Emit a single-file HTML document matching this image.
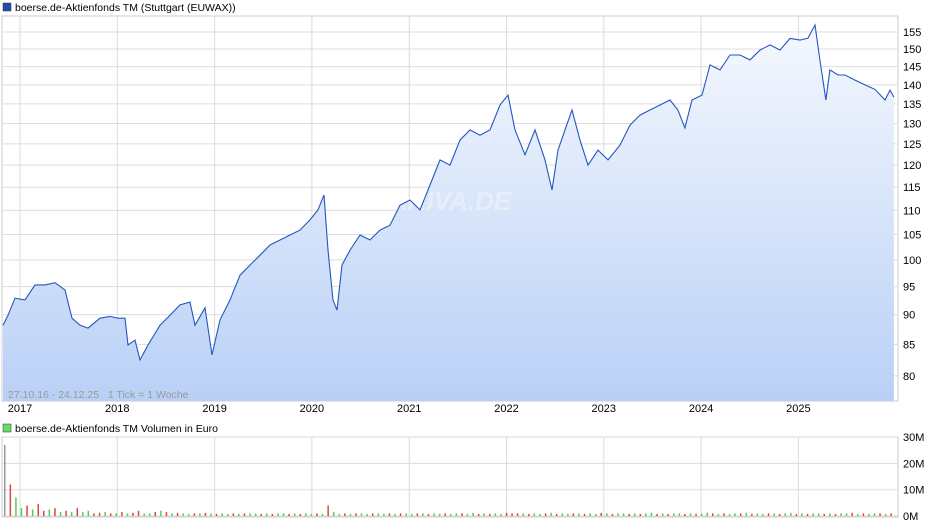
<!DOCTYPE html>
<html><head><meta charset="utf-8"><style>
body{margin:0;background:#fff;font-family:"Liberation Sans",Arial,sans-serif;}
svg text{font-family:"Liberation Sans",Arial,sans-serif;}
</style></head><body>
<svg id="c" width="940" height="526" viewBox="0 0 940 526">
<defs><linearGradient id="g" x1="0" y1="0" x2="0" y2="1"><stop offset="0" stop-color="#f5f8fe"/><stop offset="1" stop-color="#b9d0f6"/></linearGradient></defs>
<rect x="2" y="16" width="896" height="385" fill="#fff" stroke="#ccc"/>
<g id="grid"></g>
<path id="area" fill="url(#g)"/>
<text x="450" y="210" font-size="26" font-style="italic" font-weight="bold" fill="#fff" opacity="0.35" text-anchor="middle">ARIVA.DE</text>
<path id="line" fill="none" stroke="#2456be" stroke-width="1.1"/>
<rect x="3" y="3" width="8" height="8" fill="#1f4fa8" stroke="#333" stroke-width="0.5"/>
<text x="15" y="11" font-size="10.5" fill="#000">boerse.de-Aktienfonds TM (Stuttgart (EUWAX))</text>
<text x="8" y="398" font-size="10.5" fill="#999">27.10.16 - 24.12.25&#160;&#160;&#160;1 Tick = 1 Woche</text>
<g id="yt"></g><g id="xt"></g>
<rect x="3" y="424" width="8" height="8" fill="#6d6" stroke="#333" stroke-width="0.5"/>
<text x="15" y="432" font-size="10.5" fill="#000">boerse.de-Aktienfonds TM Volumen in Euro</text>
<rect x="2" y="437" width="896" height="80" fill="#fff" stroke="#ccc"/>
<g id="vgrid"></g><g id="vbars"></g><g id="vt"></g>
</svg>
<script>
const dates=[2016.825,2016.877,2016.949,2017.051,2017.154,2017.257,2017.360,2017.462,2017.534,2017.617,2017.699,2017.822,2017.925,2018.007,2018.079,2018.110,2018.182,2018.233,2018.316,2018.439,2018.542,2018.644,2018.747,2018.799,2018.901,2018.973,2019.056,2019.158,2019.261,2019.364,2019.467,2019.569,2019.672,2019.775,2019.878,2019.980,2020.063,2020.124,2020.165,2020.217,2020.258,2020.309,2020.392,2020.494,2020.597,2020.700,2020.803,2020.905,2021.008,2021.111,2021.214,2021.317,2021.419,2021.522,2021.625,2021.728,2021.830,2021.933,2022.015,2022.087,2022.190,2022.293,2022.396,2022.468,2022.529,2022.601,2022.673,2022.755,2022.838,2022.940,2023.043,2023.166,2023.269,2023.372,2023.475,2023.578,2023.680,2023.762,2023.834,2023.906,2024.009,2024.091,2024.194,2024.297,2024.400,2024.503,2024.605,2024.708,2024.811,2024.914,2025.016,2025.099,2025.171,2025.221,2025.283,2025.324,2025.407,2025.479,2025.582,2025.684,2025.787,2025.890,2025.941,2025.982];
const prices=[88.2,89.9,92.9,92.6,95.3,95.3,95.7,94.4,89.4,88.2,87.7,89.4,89.7,89.4,89.4,84.9,85.7,82.5,84.9,88.2,89.9,91.7,92.2,88.2,91.2,83.3,89.1,92.6,97.1,99.0,100.9,102.9,103.9,104.9,105.9,108.0,110.1,113.3,101.9,92.6,90.8,99.0,101.9,104.9,103.9,105.9,106.9,111.1,112.2,110.1,115.5,121.2,120.0,125.9,128.4,127.1,128.4,134.7,137.3,128.4,122.4,128.4,121.2,114.4,123.5,128.4,133.4,125.9,120.0,123.5,121.2,124.7,129.6,132.1,133.4,134.7,136.0,133.4,128.9,136.0,137.3,145.5,144.1,148.3,148.3,146.9,149.7,151.2,149.7,153.1,152.6,153.2,157.1,146.9,136.0,144.1,142.7,142.7,141.3,140.0,138.8,136.0,138.6,136.8];
const yTicks=[80,85,90,95,100,105,110,115,120,125,130,135,140,145,150,155];
const years=[2017,2018,2019,2020,2021,2022,2023,2024,2025];
const volumes=[27,12,7,3,4,2.5,4.5,2,2.5,3,1.5,2,1.5,3,1.5,2,1,1.2,1.5,1,1,1.5,1,1.2,2,1,1,1.5,2,1.5,1,1.2,1,0.8,1,1,1.2,1,0.8,1,0.8,1,0.8,1,1,1,0.8,1,0.8,1,1,0.8,1,0.8,1,0.8,1,0.8,4,1.5,0.8,1,0.8,1,1,0.8,1,1,0.8,1,0.8,1,1,0.8,1,1,0.8,1,0.8,1,0.8,1,
1,0.8,1.2,0.8,1,0.8,1,0.8,1.2,1,1,1,0.8,1,0.8,1,1.2,0.8,1,0.8,1,1,0.8,1,0.8,1.2,1,0.8,1,1,0.8,1,0.8,1,1.2,0.8,1,0.8,1,1,0.8,1,0.8,1,1.2,1,0.8,1,0.8,1,1,1.2,0.8,1,0.8,1,1,0.8,1,1.2,0.8,1,0.8,1,1,0.8,1,0.8,1,1,1.2,0.8,1,0.8,1,1,0.8,1];
const volUp=[0,0,1,1,0,1,0,0,1,0,1,0,1,0,1,1,0,0,1,0,1,0,1,0,0,1,1,0,1,0,1,0,1,1,0,1,0,1,0,1,1,0,1,0,1,1,0,1,0,1,1,0,1,0,1,1,0,1,0,1,1,0,1,0,1,1,0,1,1,0,1,0,1,1,0,1,0,1,1,0,1,1,
0,1,1,0,1,0,1,1,0,0,0,1,0,1,1,0,1,0,1,1,0,1,0,1,1,0,1,0,1,1,0,1,0,1,1,0,1,0,1,1,0,1,0,1,1,0,1,0,1,1,0,1,0,1,1,0,1,0,1,1,0,1,0,1,1,0,1,0,1,1,0,1,0,1,1,0,1,0,1,1];
const vTicks=[0,10,20,30];
const NS="http://www.w3.org/2000/svg";
const X=y=>20+(y-2017)*97.3;
const Y=v=>32+520*Math.log(155/v);
const VY=v=>516-v*2.63;
function mk(t,a,p){const e=document.createElementNS(NS,t);for(const k in a)e.setAttribute(k,a[k]);p.appendChild(e);return e;}
const grid=document.getElementById('grid'),yt=document.getElementById('yt'),xt=document.getElementById('xt');
yTicks.forEach(v=>{const l=mk('line',{x1:2,x2:898,y1:Y(v),y2:Y(v),stroke:'#ddd'},grid);


const t=mk('text',{x:903,y:Y(v)+4,'font-size':11,fill:'#000'},yt);t.textContent=v;

});
years.forEach(yr=>{const l=mk('line',{x1:X(yr),x2:X(yr),y1:16,y2:401,stroke:'#ddd'},grid);


const l2=mk('line',{x1:X(yr),x2:X(yr),y1:437,y2:517,stroke:'#ddd'},document.getElementById('vgrid'));


const t=mk('text',{x:X(yr),y:412,'font-size':11,fill:'#000','text-anchor':'middle'},xt);t.textContent=yr;

});
let d='';dates.forEach((dt,i)=>{d+=(i?'L':'M')+X(dt).toFixed(1)+','+Y(prices[i]).toFixed(1);});
document.getElementById('line').setAttribute('d',d);
document.getElementById('area').setAttribute('d',d+'L'+X(dates[dates.length-1]).toFixed(1)+',401L'+X(dates[0]).toFixed(1)+',401Z');
const vt=document.getElementById('vt'),vg=document.getElementById('vgrid');
vTicks.forEach(v=>{const l=mk('line',{x1:2,x2:898,y1:VY(v),y2:VY(v),stroke:'#ddd'},vg);


const t=mk('text',{x:903,y:VY(v)+4,'font-size':11,fill:'#000'},vt);t.textContent=v+'M';

});
const vb=document.getElementById('vbars');const n=volumes.length;
volumes.forEach((v,i)=>{const x=4+i*(892/n);const col=i==0?'#999':(volUp[i%volUp.length]?'#5c5':'#d44');
const r=mk('rect',{x:x.toFixed(1),y:VY(v),width:1.5,height:516-VY(v),fill:col},vb);

});
</script>
</body></html>
